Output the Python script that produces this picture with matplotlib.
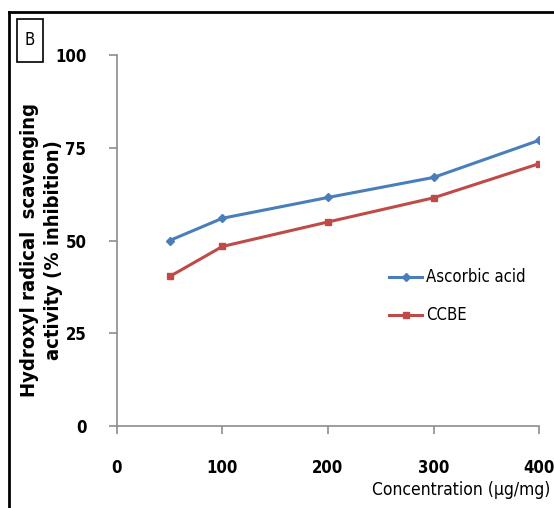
import matplotlib
matplotlib.use("Agg")
import matplotlib.pyplot as plt
from matplotlib.lines import Line2D
from matplotlib.patches import Rectangle

conc = [50, 100, 200, 300, 400]
ascorbic = [50.0, 56.0, 61.6, 67.0, 77.0]
ccbe = [40.3, 48.4, 55.0, 61.5, 70.7]
xticks = [0, 100, 200, 300, 400]
yticks = [0, 25, 50, 75, 100]

plt.rcParams['font.family'] = ['DejaVu Sans']
plt.rcParams['font.stretch'] = 'condensed'

fig = plt.figure(figsize=(5.54, 5.08), dpi=100)
ax = fig.add_axes([0.211, 0.1614, 0.762, 0.7303])

ax.plot(conc, ascorbic, color='#4A7EBB', lw=2.2, marker='D', ms=4, label='Ascorbic acid')
ax.plot(conc, ccbe, color='#BE4B48', lw=2.2, marker='s', ms=5, label='CCBE')

ax.set_xlim(0, 400)
ax.set_ylim(0, 100)
ax.set_xticks(xticks)
ax.set_yticks(yticks)
for s in ['top', 'right']:
    ax.spines[s].set_visible(False)
for s in ['left', 'bottom']:
    ax.spines[s].set_color('#8c8c8c')
    ax.spines[s].set_linewidth(1.2)
ax.tick_params(axis='both', colors='#8c8c8c', length=6, width=1.2, labelcolor='black',
               labelsize=12)
ax.tick_params(axis='x', pad=18)
ax.tick_params(axis='y', pad=16)
for lab in ax.get_xticklabels() + ax.get_yticklabels():
    lab.set_fontweight('bold')

fig.text(41.5/554, 0.508, 'Hydroxyl radical  scavenging\nactivity (% inhibition)', rotation=90,
         ha='center', va='center', fontsize=14.5, fontweight='bold', linespacing=1.3)
fig.text(0.993, 1 - 490/508, 'Concentration (µg/mg)', ha='right', va='center', fontsize=12.5)

leg = ax.legend(loc='upper left', bbox_to_anchor=(0.609, 0.465), frameon=False, fontsize=12,
                handlelength=2.0, labelspacing=1.2, handletextpad=0.2)

fig.add_artist(Line2D([9/554, 9/554], [0, 1 - 12/508], color='black', lw=2, transform=fig.transFigure))
fig.add_artist(Line2D([9/554, 1], [1 - 12/508, 1 - 12/508], color='black', lw=2, transform=fig.transFigure))
fig.add_artist(Rectangle((17/554, 1 - 62/508), 26/554, 43/508, fill=False, edgecolor='black',
                         lw=1.2, transform=fig.transFigure))
fig.text(30/554, 1 - 40/508, 'B', ha='center', va='center', fontsize=12)

fig.savefig('out.png', dpi=100)
